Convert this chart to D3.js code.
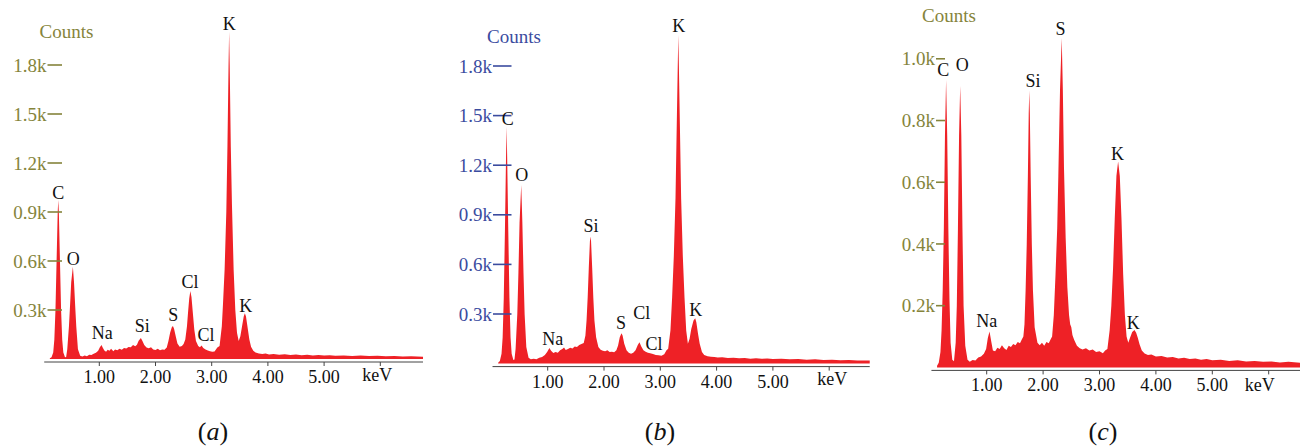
<!DOCTYPE html>
<html lang="en">
<head>
    <meta charset="UTF-8">
    <title>EDS spectra</title>
    <script src="https://d3js.org/d3.v7.min.js"></script>
    <style>
        body { margin: 0; background: #fff; }
        svg { display: block; font-family: "Liberation Serif", "Times New Roman", serif; }
        .peak-label { fill: #111; font-size: 18px; text-anchor: middle; }
        .tick-label { font-size: 18px; text-anchor: middle; fill: #111; }
        .caption { font-size: 26px; text-anchor: middle; fill: #111; }
    </style>
</head>
<body>
    <svg id="chart" width="1300" height="448"></svg>
    <script>
        // x ticks shared by all three spectra
        const xTicks = [1, 2, 3, 4, 5, 6];
        const xTickLabels = ["1.00", "2.00", "3.00", "4.00", "5.00", ""];

        const yTicksAB = [300, 600, 900, 1200, 1500, 1800];
        const yTickLabelsAB = ["0.3k", "0.6k", "0.9k", "1.2k", "1.5k", "1.8k"];
        const yTicksC = [200, 400, 600, 800, 1000];
        const yTickLabelsC = ["0.2k", "0.4k", "0.6k", "0.8k", "1.0k"];

        // spectra, [keV, counts]
        const spectrumA = [
            [0.12, 5], [0.15, 10], [0.18, 40], [0.2, 120], [0.22, 300], [0.24, 600], [0.26, 900], [0.27, 973],
            [0.28, 900], [0.3, 600], [0.32, 300], [0.34, 120], [0.36, 40], [0.39, 10], [0.41, 12], [0.43, 60],
            [0.46, 200], [0.48, 330], [0.5, 470], [0.53, 565], [0.55, 470], [0.57, 330], [0.59, 200], [0.62, 60],
            [0.66, 20], [0.7, 15], [0.74, 22], [0.78, 17], [0.82, 26], [0.86, 24], [0.9, 32], [0.94, 38],
            [0.98, 50], [1.01, 72], [1.04, 86], [1.06, 70], [1.09, 52], [1.12, 45], [1.15, 56], [1.18, 50],
            [1.21, 62], [1.25, 48], [1.28, 58], [1.32, 54], [1.36, 63], [1.4, 57], [1.44, 67], [1.48, 64],
            [1.52, 74], [1.56, 72], [1.6, 86], [1.64, 78], [1.67, 88], [1.7, 112], [1.74, 128], [1.77, 108],
            [1.8, 85], [1.84, 70], [1.88, 66], [1.92, 72], [1.96, 58], [2.0, 55], [2.04, 62], [2.08, 54],
            [2.12, 58], [2.16, 56], [2.2, 70], [2.23, 110], [2.26, 160], [2.29, 195], [2.31, 202], [2.33, 185],
            [2.36, 140], [2.39, 95], [2.43, 75], [2.47, 80], [2.5, 92], [2.53, 120], [2.56, 200], [2.58, 290],
            [2.6, 370], [2.62, 416], [2.64, 380], [2.66, 300], [2.69, 180], [2.72, 110], [2.76, 80], [2.79, 72],
            [2.82, 82], [2.85, 68], [2.89, 58], [2.93, 52], [2.97, 48], [3.01, 44], [3.05, 46], [3.1, 70],
            [3.14, 80], [3.18, 200], [3.2, 330], [3.23, 550], [3.26, 900], [3.28, 1300], [3.3, 1800], [3.31, 2004],
            [3.32, 1800], [3.34, 1300], [3.36, 950], [3.39, 550], [3.42, 300], [3.45, 160], [3.48, 110],
            [3.51, 140], [3.54, 200], [3.57, 260], [3.59, 280], [3.61, 260], [3.64, 190], [3.67, 120], [3.7, 75],
            [3.74, 50], [3.78, 40], [3.84, 34], [3.9, 30], [3.96, 34], [4.02, 28], [4.1, 31], [4.2, 26],
            [4.3, 29], [4.4, 25], [4.5, 27], [4.6, 23], [4.7, 26], [4.8, 22], [4.9, 25], [5.0, 21], [5.1, 23],
            [5.2, 20], [5.35, 22], [5.5, 19], [5.65, 21], [5.8, 18], [5.95, 20], [6.1, 17], [6.25, 19],
            [6.4, 16], [6.55, 17], [6.76, 14]
        ];
        const spectrumB = [
            [0.12, 5], [0.15, 15], [0.18, 60], [0.2, 160], [0.22, 400], [0.24, 800], [0.26, 1250], [0.27, 1433],
            [0.28, 1250], [0.3, 800], [0.32, 400], [0.34, 160], [0.36, 60], [0.39, 22], [0.41, 25], [0.43, 90],
            [0.46, 300], [0.48, 550], [0.5, 850], [0.53, 1080], [0.55, 850], [0.57, 550], [0.59, 300],
            [0.62, 100], [0.66, 35], [0.7, 26], [0.75, 30], [0.8, 27], [0.85, 36], [0.9, 40], [0.95, 52],
            [0.99, 70], [1.03, 94], [1.06, 78], [1.1, 64], [1.14, 70], [1.18, 66], [1.22, 80], [1.26, 88],
            [1.29, 98], [1.32, 82], [1.36, 88], [1.4, 96], [1.44, 92], [1.48, 104], [1.52, 100], [1.56, 112],
            [1.6, 118], [1.64, 125], [1.67, 170], [1.69, 260], [1.71, 400], [1.73, 580], [1.75, 740],
            [1.76, 768], [1.77, 740], [1.79, 580], [1.81, 400], [1.83, 260], [1.86, 160], [1.9, 100],
            [1.94, 84], [1.98, 78], [2.02, 74], [2.06, 80], [2.1, 70], [2.14, 72], [2.18, 68], [2.22, 80],
            [2.25, 110], [2.28, 160], [2.31, 183], [2.33, 170], [2.36, 120], [2.4, 80], [2.44, 65], [2.48, 60],
            [2.52, 66], [2.56, 80], [2.6, 112], [2.63, 129], [2.66, 105], [2.7, 80], [2.74, 72], [2.78, 66],
            [2.82, 62], [2.87, 58], [2.92, 52], [2.97, 50], [3.02, 48], [3.07, 56], [3.11, 80], [3.14, 90],
            [3.18, 200], [3.21, 400], [3.24, 650], [3.27, 1000], [3.29, 1400], [3.31, 1800], [3.32, 1988],
            [3.33, 1800], [3.35, 1400], [3.37, 1000], [3.4, 650], [3.43, 400], [3.46, 200], [3.49, 120],
            [3.52, 150], [3.55, 210], [3.59, 260], [3.62, 274], [3.64, 250], [3.67, 180], [3.7, 120],
            [3.74, 70], [3.78, 52], [3.84, 45], [3.9, 42], [3.96, 40], [4.02, 37], [4.1, 38], [4.2, 34],
            [4.3, 36], [4.4, 32], [4.5, 34], [4.6, 30], [4.7, 32], [4.8, 29], [4.9, 31], [5.0, 28], [5.15, 30],
            [5.3, 26], [5.45, 28], [5.6, 24], [5.75, 26], [5.9, 22], [6.05, 24], [6.2, 20], [6.35, 22],
            [6.5, 18], [6.72, 18]
        ];
        const spectrumC = [
            [0.12, 5], [0.15, 15], [0.18, 50], [0.2, 120], [0.22, 250], [0.24, 450], [0.26, 750], [0.28, 931],
            [0.3, 750], [0.32, 450], [0.34, 220], [0.36, 80], [0.39, 25], [0.42, 20], [0.45, 80], [0.47, 200],
            [0.49, 450], [0.51, 750], [0.53, 912], [0.55, 750], [0.57, 450], [0.59, 200], [0.62, 70],
            [0.66, 25], [0.7, 18], [0.75, 24], [0.8, 22], [0.85, 32], [0.9, 35], [0.95, 44], [0.99, 60],
            [1.02, 95], [1.05, 116], [1.08, 85], [1.11, 55], [1.15, 52], [1.19, 64], [1.23, 60], [1.27, 72],
            [1.31, 62], [1.35, 56], [1.39, 70], [1.43, 66], [1.47, 76], [1.51, 72], [1.55, 82], [1.59, 78],
            [1.62, 90], [1.65, 100], [1.67, 140], [1.69, 250], [1.71, 400], [1.73, 620], [1.745, 820],
            [1.755, 897], [1.765, 820], [1.78, 620], [1.8, 400], [1.82, 250], [1.85, 130], [1.9, 80],
            [1.94, 72], [1.98, 80], [2.02, 70], [2.06, 82], [2.1, 78], [2.13, 90], [2.16, 100], [2.19, 170],
            [2.22, 300], [2.25, 450], [2.27, 620], [2.3, 900], [2.33, 1067], [2.35, 900], [2.37, 650],
            [2.4, 420], [2.43, 260], [2.46, 170], [2.48, 140], [2.5, 130], [2.52, 105], [2.55, 90], [2.6, 70],
            [2.65, 62], [2.7, 58], [2.76, 62], [2.82, 55], [2.88, 58], [2.94, 50], [3.0, 52], [3.06, 46],
            [3.1, 55], [3.14, 60], [3.18, 120], [3.21, 200], [3.24, 320], [3.27, 480], [3.3, 620], [3.33, 667],
            [3.36, 620], [3.39, 480], [3.42, 300], [3.45, 170], [3.48, 100], [3.51, 80], [3.54, 95],
            [3.58, 115], [3.62, 121], [3.65, 112], [3.68, 95], [3.71, 75], [3.75, 55], [3.8, 45], [3.86, 40],
            [3.92, 42], [4.0, 35], [4.1, 37], [4.2, 32], [4.3, 34], [4.4, 29], [4.5, 31], [4.6, 27], [4.7, 29],
            [4.8, 25], [4.9, 27], [5.0, 23], [5.15, 25], [5.3, 21], [5.45, 23], [5.6, 19], [5.75, 21],
            [5.9, 18], [6.05, 19], [6.2, 16], [6.35, 18], [6.56, 15]
        ];

        // peak labels: [element, keV, counts at label centre]
        const labelsA = [
            ["C", 0.27, 1018], ["O", 0.537, 612], ["Na", 1.054, 164], ["Si", 1.765, 202], ["S", 2.317, 269],
            ["Cl", 2.614, 473], ["Cl", 2.9, 147], ["K", 3.314, 2055], ["K", 3.605, 324]
        ];
        const labelsB = [
            ["C", 0.291, 1484], ["O", 0.538, 1145], ["Na", 1.089, 153], ["Si", 1.768, 832], ["S", 2.302, 247],
            ["Cl", 2.669, 308], ["Cl", 2.887, 122], ["K", 3.327, 2042], ["K", 3.629, 324]
        ];
        const labelsC = [
            ["C", 0.23, 964], ["O", 0.566, 980], ["Na", 1.0, 152], ["Si", 1.82, 928], ["S", 2.31, 1096],
            ["K", 3.32, 692], ["K", 3.6, 146]
        ];

        const panels = [
            {data: spectrumA, labels: labelsA, yTicks: yTicksAB, yTickLabels: yTickLabelsAB, color: "#85843b",
             xMax: 6.76, x0: 43.1, pxPerKeV: 56.2, yMax: 1800, yBottom: 359, yTop: 65,
             tickStart: 47.5, tickEnd: 62, countsX: 66.5, countsY: 38, keVdx: -3, keVdy: -1, caption: "a", capX: 213},
            {data: spectrumB, labels: labelsB, yTicks: yTicksAB, yTickLabels: yTickLabelsAB, color: "#3b4c9f",
             xMax: 6.72, x0: 491.4, pxPerKeV: 56.3, yMax: 1800, yBottom: 363.6, yTop: 66,
             tickStart: 493, tickEnd: 511.5, countsX: 514, countsY: 43, keVdx: 3, keVdy: -2, caption: "b", capX: 660},
            {data: spectrumC, labels: labelsC, yTicks: yTicksC, yTickLabels: yTickLabelsC, color: "#85843b",
             xMax: 6.56, x0: 930.3, pxPerKeV: 56.4, yMax: 1000, yBottom: 367.4, yTop: 58.8,
             tickStart: 936, tickEnd: 945, countsX: 949, countsY: 22, keVdx: -9, keVdy: 1, caption: "c", capX: 1103}
        ];

        const svg = d3.select("#chart");

        panels.forEach(p => {
            const x = d3.scaleLinear().domain([0, p.xMax]).range([p.x0, p.x0 + p.xMax * p.pxPerKeV]);
            const y = d3.scaleLinear().domain([0, p.yMax]).range([p.yBottom, p.yTop]);
            const g = svg.append("g");

            // spectrum fill
            const area = d3.area()
                .x(d => x(d[0]))
                .y0(y(0))
                .y1(d => y(d[1]));
            g.append("path")
                .datum(p.data)
                .attr("d", area)
                .attr("fill", "#ee2126");

            // x axis
            const axisY = y(0) + 3;
            g.append("line")
                .attr("x1", x(0.02)).attr("x2", x(p.xMax))
                .attr("y1", axisY).attr("y2", axisY)
                .attr("stroke", "#444").attr("stroke-width", 1);
            g.selectAll(".xtick")
                .data(xTicks)
                .enter().append("line")
                .attr("x1", d => x(d)).attr("x2", d => x(d))
                .attr("y1", axisY).attr("y2", axisY + 4)
                .attr("stroke", "#444");
            g.selectAll(".xlabel")
                .data(xTicks)
                .enter().append("text")
                .attr("class", "tick-label")
                .attr("x", d => x(d))
                .attr("y", axisY + 21)
                .text((d, i) => xTickLabels[i]);
            g.append("text")
                .attr("class", "tick-label")
                .attr("x", x(6) + p.keVdx)
                .attr("y", axisY + 20 + p.keVdy)
                .text("keV");

            // y ticks
            g.selectAll(".ytick")
                .data(p.yTicks)
                .enter().append("line")
                .attr("x1", p.tickStart).attr("x2", p.tickEnd)
                .attr("y1", d => y(d)).attr("y2", d => y(d))
                .attr("stroke", p.color).attr("stroke-width", 1.6);
            g.selectAll(".ylabel")
                .data(p.yTicks)
                .enter().append("text")
                .attr("x", p.tickStart - 1)
                .attr("y", d => y(d))
                .attr("dy", "0.35em")
                .attr("text-anchor", "end")
                .attr("font-size", "19px")
                .attr("fill", p.color)
                .text((d, i) => p.yTickLabels[i]);
            g.append("text")
                .attr("x", p.countsX)
                .attr("y", p.countsY)
                .attr("text-anchor", "middle")
                .attr("font-size", "19px")
                .attr("fill", p.color)
                .text("Counts");

            // element labels
            g.selectAll(".peak-label")
                .data(p.labels)
                .enter().append("text")
                .attr("class", "peak-label")
                .attr("x", d => x(d[1]))
                .attr("y", d => y(d[2]))
                .attr("dy", "0.35em")
                .text(d => d[0]);

            // caption
            const cap = g.append("text")
                .attr("class", "caption")
                .attr("x", p.capX)
                .attr("y", 440);
            cap.append("tspan").text("(");
            cap.append("tspan").attr("font-style", "italic").text(p.caption);
            cap.append("tspan").text(")");
        });
    </script>
</body>
</html>
